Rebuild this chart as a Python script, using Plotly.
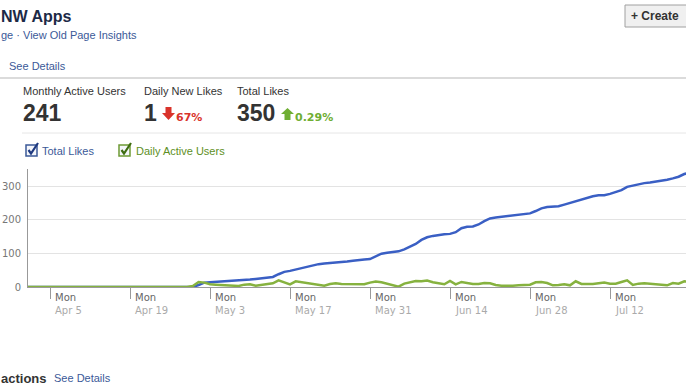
import plotly.graph_objects as go
import pandas as pd

# ---------------- data ----------------
start_date = "2010-04-01"
total_likes = [0]*29 + [
    0, 6, 13, 14, 15, 15, 16, 17, 19, 20, 22, 24, 26, 28, 30, 38, 45, 48, 52, 57,
    62, 66, 68, 70, 71, 72, 74, 76, 78, 81, 82, 83, 92, 99, 102, 104, 106, 112, 120, 128,
    140, 148, 152, 155, 157, 158, 163, 175, 179, 180, 186, 196, 204, 207, 209, 211, 211, 215, 217, 219,
    226, 234, 238, 239, 240, 245, 250, 256, 262, 266, 270, 273, 273, 277, 282, 288, 298, 302, 306, 309,
    311, 313, 316, 319, 323, 328, 336, 340]
daily_active_users = [0]*29 + [
    3, 15, 13, 8, 7, 6, 7, 6, 3, 7, 8, 4, 6, 8, 11, 20, 13, 8, 17, 14,
    12, 9, 5, 4, 9, 11, 9, 9, 9, 8, 8, 13, 16, 14, 10, 5, 1, 10, 13, 18,
    17, 19, 14, 10, 8, 18, 8, 15, 11, 9, 9, 12, 11, 6, 4, 3, 4, 5, 6, 7,
    14, 15, 12, 5, 6, 8, 5, 17, 9, 8, 9, 11, 13, 10, 10, 15, 20, 6, 10, 11,
    9, 8, 6, 5, 12, 10, 17, 15]
dates = pd.date_range(start_date, periods=len(total_likes), freq="D")

tick_dates = ["2010-04-05", "2010-04-19", "2010-05-03", "2010-05-17",
              "2010-05-31", "2010-06-14", "2010-06-28", "2010-07-12"]
tick_days = ["Mon"]*8
tick_labels = ["Apr 5", "Apr 19", "May 3", "May 17", "May 31", "Jun 14", "Jun 28", "Jul 12"]
y_ticks = [0, 100, 200, 300]

stat_titles = ["Monthly Active Users", "Daily New Likes", "Total Likes"]
stat_values = ["241", "1", "350"]
stat_changes = ["", "67%", "0.29%"]

# ---------------- layout helpers ----------------
W, H = 686, 386
L, R, T, B = 28, 0, 169, 99
PW, PH = W - L - R, H - T - B

def px(x):
    return (x - L) / PW

def py(y):
    return (H - B - y) / PH

BLUE = "#3a5fc4"
GREEN = "#86b23f"
LINK = "#3b5998"
FONT = "Liberation Sans, Arial, sans-serif"
AXF = "DejaVu Sans, Verdana, sans-serif"

fig = go.Figure()
fig.add_trace(go.Scatter(x=dates, y=total_likes, mode="lines", name="Total Likes",
                         line=dict(color=BLUE, width=2.5), hoverinfo="skip"))
fig.add_trace(go.Scatter(x=dates, y=daily_active_users, mode="lines", name="Daily Active Users",
                         line=dict(color=GREEN, width=2.5), hoverinfo="skip"))

ann = []
def text(x, y, s, size=11, color="#333", bold=False, family=FONT, xanchor="left"):
    if bold:
        s = "<b>" + s + "</b>"
    ann.append(dict(x=px(x), y=py(y), xref="paper", yref="paper", text=s, showarrow=False,
                    xanchor=xanchor, yanchor="middle", font=dict(size=size, color=color, family=family),
                    borderpad=0))

# header
text(0, 16, "NW Apps", size=16, color="#1c2a47", bold=True)
text(0, 35, "ge · View Old Page Insights", size=11, color=LINK)
text(8, 66, "See Details", size=11, color=LINK)

# stats
stat_x = [22, 143, 236]
for i in range(3):
    text(stat_x[i], 91, stat_titles[i], size=11, color="#333")
    text(stat_x[i], 113, stat_values[i], size=23, color="#333", bold=True)
text(175, 117, stat_changes[1], size=11, color="#d9332b", bold=True, family=AXF)
text(294, 117, stat_changes[2], size=11, color="#6fae33", bold=True, family=AXF)

# legend labels
text(41, 151, "Total Likes", size=11, color=LINK)
text(135, 151, "Daily Active Users", size=11, color="#5e8f25")

# bottom
text(0, 378, "actions", size=13, color="#333", bold=True)
text(53, 378, "See Details", size=11, color=LINK)

# create button text
text(630, 16, "+ Create", size=12, color="#333", bold=True)

# x tick labels via data coordinates
for d, dn, lab in zip(tick_dates, tick_days, tick_labels):
    ann.append(dict(x=d, y=py(297.5), xref="x", yref="paper", text=dn, showarrow=False,
                    xanchor="left", yanchor="middle", xshift=3,
                    font=dict(size=10, color="#666", family=AXF)))
    ann.append(dict(x=d, y=py(310), xref="x", yref="paper", text=lab, showarrow=False,
                    xanchor="left", yanchor="middle", xshift=3,
                    font=dict(size=10, color="#aaa", family=AXF)))

shapes = []
def hline(x0, x1, y, color, width=1):
    shapes.append(dict(type="line", xref="paper", yref="paper", x0=px(x0), x1=px(x1),
                       y0=py(y), y1=py(y), line=dict(color=color, width=width)))

def path(pts, fill, line_color=None, width=0, closed=True):
    d = "M " + " L ".join(f"{px(a):.5f},{py(b):.5f}" for a, b in pts)
    if closed:
        d += " Z"
    shp = dict(type="path", xref="paper", yref="paper", path=d,
               line=dict(color=line_color or fill or "rgba(0,0,0,0)", width=width))
    if fill:
        shp["fillcolor"] = fill
    shapes.append(shp)

hline(-5, 700, 78, "#cfcfcf", 1.5)
hline(22, 700, 133, "#e6e6e6", 1)

# red down arrow
path([(165.5, 107), (171.5, 107), (171.5, 113), (175, 113), (168.5, 120), (162, 113), (165.5, 113)], "#d9332b")
# green up arrow
path([(284.5, 120), (290.5, 120), (290.5, 114), (294, 114), (287.5, 108), (281, 114), (284.5, 114)], "#6fae33")

# checkboxes
def checkbox(x0, color, check):
    shapes.append(dict(type="rect", xref="paper", yref="paper", x0=px(x0), x1=px(x0 + 11),
                       y0=py(156), y1=py(145), fillcolor="#f4f6fb", line=dict(color=color, width=1.5)))
    path([(x0 + 2.5, 150), (x0 + 5, 153.5), (x0 + 12, 143)], None, check, 2.2, closed=False)

checkbox(26, "#3b5998", "#1f3a80")
checkbox(119, "#6e9a35", "#3f6d12")

# create button
shapes.append(dict(type="rect", xref="paper", yref="paper", x0=px(625), x1=px(695),
                   y0=py(27), y1=py(5), fillcolor="#f0f0f0", line=dict(color="#a0a0a0", width=1)))

fig.update_layout(
    width=W, height=H,
    margin=dict(l=L, r=R, t=T, b=B, autoexpand=False),
    paper_bgcolor="white", plot_bgcolor="white",
    showlegend=False,
    annotations=ann, shapes=shapes,
    xaxis=dict(range=["2010-04-01 03:36", "2010-07-25 07:12"], type="date",
               tickvals=tick_dates, showticklabels=False, ticks="outside", ticklen=11,
               tickcolor="#999", showgrid=False, showline=True, linecolor="#999",
               linewidth=1, zeroline=False, fixedrange=True),
    yaxis=dict(range=[0, 351], tickvals=y_ticks, showgrid=True, gridcolor="#e3e3e3",
               showline=True, linecolor="#999", linewidth=1, zeroline=False,
               ticks="", ticklabelstandoff=4,
               tickfont=dict(size=10, color="#777", family=AXF), fixedrange=True),
)

fig.write_html("out.html", config={"displayModeBar": False},
               post_script="document.body.style.margin='0';document.body.style.overflow='hidden';")
